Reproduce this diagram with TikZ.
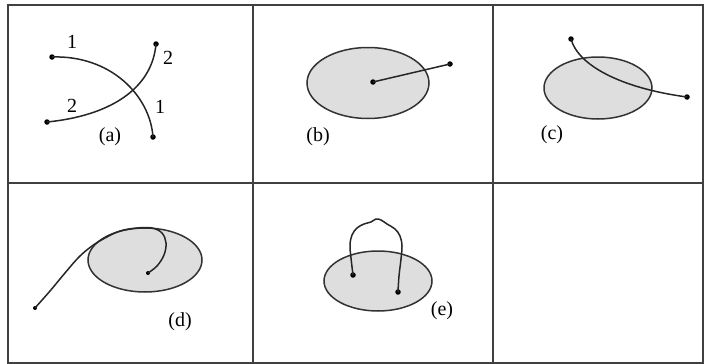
\documentclass[tikz,border=0pt]{standalone}
\usepackage{fontspec}
\setmainfont{Liberation Serif}
\usetikzlibrary{shapes.geometric}

\begin{document}
\begin{tikzpicture}[x=1pt, y=-1pt,
    every node/.style={font=\fontsize{20}{23}\selectfont},
    frame/.style={draw=black!75, line width=1.8pt},
    strand/.style={draw=black!85, line width=1.5pt},
    blob/.style={ellipse, draw=black!80, line width=1.5pt, fill=black!13, inner sep=0pt},
    tip/.style={circle, fill=black, inner sep=0pt, minimum size=5.5pt}]
    % Keep the page the same size as the reference
    \useasboundingbox (0,0) rectangle (705,364);

    % Frame and grid
    \draw[frame] (8,5) rectangle (703,363);
    \draw[frame] (253,5) -- (253,363);
    \draw[frame] (493,5) -- (493,363);
    \draw[frame] (8,183) -- (703,183);

    % (a): two crossing strands
    \node[tip] (a1s) at (52,57) {};
    \node[tip] (a1e) at (153,137) {};
    \node[tip] (a2s) at (47,122) {};
    \node[tip] (a2e) at (156,44) {};
    \draw[strand] (a1s.center) .. controls (110,55) and (150,95) .. (a1e.center);
    \draw[strand] (a2s.center) .. controls (108,116) and (152,90) .. (a2e.center);
    \node (a1l) at (72,42) {1};
    \node (a1r) at (160,107) {1};
    \node (a2l) at (72,106) {2};
    \node (a2r) at (168,58) {2};
    \node (alab) at (110,137) {(a)};

    % (b): strand from the centre of the blob
    \node[blob, minimum width=122pt, minimum height=71pt] (bblob) at (368,83) {};
    \node[tip] (bs) at (373,82) {};
    \node[tip] (be) at (450,64) {};
    \draw[strand] (bs.center) -- (be.center);
    \node (blab) at (318,137) {(b)};

    % (c): strand crossing the blob
    \node[blob, minimum width=108pt, minimum height=62pt] (cblob) at (598,88) {};
    \node[tip] (cs) at (571,39) {};
    \node[tip] (ce) at (687,97) {};
    \draw[strand] (cs.center) .. controls (578,65) and (620,88) .. (ce.center);
    \node (clab) at (552,135) {(c)};

    % (d): strand running along the top and hooking in
    \node[blob, minimum width=114pt, minimum height=64pt] (dblob) at (145,260) {};
    \node[tip, minimum size=4pt] (ds) at (35,308) {};
    \node[tip, minimum size=4pt] (de) at (148,273) {};
    \draw[strand] plot[smooth, tension=0.6] coordinates {(ds.center) (50,291) (65,273)
      (79,257) (92,246) (105,238) (120,231) (137,228) (152,228) (162,233)
      (166,243) (164,255) (157,266) (de.center)};
    \node (dlab) at (180,322) {(d)};

    % (e): arch with both ends inside the blob
    \node[blob, minimum width=108pt, minimum height=60pt] (eblob) at (378,281) {};
    \node[tip] (es) at (353,275) {};
    \node[tip] (ee) at (398,292) {};
    \draw[strand] plot[smooth, tension=0.6] coordinates {(es.center) (351,258) (350,245)
      (352,235) (357,228) (364,224) (371,222) (376,219) (381,220) (387,224)
      (395,229) (400,236) (402,246) (401,259) (399,276) (ee.center)};
    \node (elab) at (442,311) {(e)};
\end{tikzpicture}
\end{document}
